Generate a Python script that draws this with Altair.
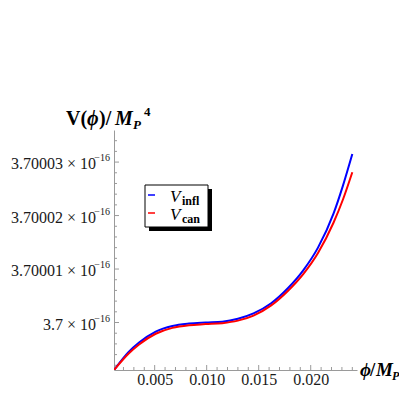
import altair as alt
import pandas as pd

# V/M_P^4 = 3.7e-16 + v * 1e-21
phi = [0.00109, 0.0025, 0.0035, 0.0051, 0.0067, 0.0083, 0.0099, 0.0115, 0.0130,
       0.0145, 0.0162, 0.0178, 0.0193, 0.0207, 0.0222, 0.0231, 0.0240]
v_infl = [-0.89, -0.55, -0.375, -0.17, -0.065, -0.02, 0.00, 0.016, 0.07,
          0.17, 0.36, 0.64, 0.98, 1.40, 2.04, 2.56, 3.15]
v_can = [-0.89, -0.58, -0.41, -0.21, -0.10, -0.05, -0.03, -0.012, 0.035,
         0.13, 0.32, 0.59, 0.91, 1.30, 1.87, 2.30, 2.81]

x_major = [0.005, 0.010, 0.015, 0.020]
x_minor = [i / 1000 for i in range(2, 25) if i % 5 != 0]
y_major = [0, 1, 2, 3]
y_mant = ["3.7 × 10", "3.70001 × 10", "3.70002 × 10", "3.70003 × 10"]
y_minor = [round(-0.8 + 0.2 * i, 1) for i in range(22) if (i + 1) % 5 != 0]

W, H = 243, 240
FONT = "Liberation Serif"
GREY = "#9a9a9a"

xs = alt.Scale(domain=[0.00109, 0.02445], nice=False, zero=False)
ys = alt.Scale(domain=[-0.888, 3.6], nice=False, zero=False)
xax = alt.Axis(values=x_major, format=".3f", ticks=False, grid=False, domainColor=GREY,
               labelFont=FONT, labelFontSize=16, labelColor="#1a1a1a", labelPadding=1,
               title="")
yax = alt.Axis(labels=False, ticks=False, grid=False, domainColor=GREY, title="")

n = len(phi)
df = pd.DataFrame({"phi": phi + phi, "v": v_infl + v_can,
                   "s": ["infl"] * n + ["can"] * n})

lines = alt.Chart(df).mark_line(strokeWidth=2, interpolate="monotone", clip=True).encode(
    x=alt.X("phi:Q", scale=xs, axis=xax),
    y=alt.Y("v:Q", scale=ys, axis=yax),
    color=alt.Color("s:N", scale=alt.Scale(domain=["infl", "can"], range=["#0000ff", "#ff0000"]),
                    legend=None),
)

def xticks(vals, length):
    d = pd.DataFrame({"t": vals})
    return alt.Chart(d).mark_rule(color=GREY, strokeWidth=1).encode(
        x=alt.X("t:Q", scale=xs, axis=xax), y=alt.value(H), y2=alt.value(H - length))

def yticks(vals, length):
    d = pd.DataFrame({"t": vals})
    return alt.Chart(d).mark_rule(color=GREY, strokeWidth=1).encode(
        y=alt.Y("t:Q", scale=ys, axis=yax), x=alt.value(0), x2=alt.value(length))

ylab_df = pd.DataFrame({"t": y_major, "m": y_mant})
ylab_main = alt.Chart(ylab_df).mark_text(align="right", baseline="alphabetic", dy=7,
                                         font=FONT, fontSize=16, color="#1a1a1a").encode(
    x=alt.value(-18), y=alt.Y("t:Q", scale=ys, axis=yax), text="m:N")
ylab_sup = alt.Chart(ylab_df).mark_text(align="right", baseline="alphabetic", dy=-1,
                                        font=FONT, fontSize=10, color="#1a1a1a").encode(
    x=alt.value(-4), y=alt.Y("t:Q", scale=ys, axis=yax), text=alt.value("−16"))

one = pd.DataFrame({"a": [0]})

def txt(s, x, y, size=20, weight="bold", style="normal", align="left", color="black"):
    return alt.Chart(one).mark_text(text=s, align=align, baseline="alphabetic", font=FONT,
                                    fontSize=size, fontWeight=weight, fontStyle=style,
                                    color=color).encode(x=alt.value(x), y=alt.value(y))

def rect(x1, x2, y1, y2, fill, stroke=None):
    kw = dict(fill=fill)
    if stroke:
        kw.update(stroke=stroke, strokeWidth=1)
    return alt.Chart(one).mark_rect(**kw).encode(
        x=alt.value(x1), x2=alt.value(x2), y=alt.value(y1), y2=alt.value(y2))

def seg(x1, x2, y, color):
    return alt.Chart(one).mark_rule(color=color, strokeWidth=1.5).encode(
        x=alt.value(x1), x2=alt.value(x2), y=alt.value(y))

# y axis title  V(ϕ)/M_P^4
ytitle = [
    txt("V(", -48, -5),
    txt("ϕ", -27, -5, style="italic"),
    txt(")/", -15, -5),
    txt("M", 1, -5, style="italic"),
    txt("P", 19, -1, size=13, style="italic"),
    txt("4", 30, -14, size=13),
]
# x axis title  ϕ/M_P
xtitle = [
    txt("ϕ", 246, 246, size=19, style="italic"),
    txt("/", 256, 246, size=19),
    txt("M", 262, 246, size=19, style="italic"),
    txt("P", 278, 250, size=12, style="italic"),
]
# legend
legend = [
    rect(35, 98, 59, 101, "black"),
    rect(31, 94, 55, 97, "white", "black"),
    seg(34, 41, 65, "#0000ff"),
    seg(34, 41, 83, "#ff0000"),
    txt("V", 56, 72, size=17, weight="normal", style="italic"),
    txt("infl", 68, 75, size=12),
    txt("V", 56, 90, size=17, weight="normal", style="italic"),
    txt("can", 68, 93, size=12),
]

chart = alt.layer(
    xticks(x_major, 5), xticks(x_minor, 3), yticks(y_major, 5), yticks(y_minor, 3),
    lines, ylab_main, ylab_sup, *ytitle, *xtitle, *legend
).properties(
    width=W, height=H,
    padding={"left": 106, "top": 122, "right": 42, "bottom": 17},
    autosize=alt.AutoSizeParams(type="none"),
).configure_view(stroke=None)

chart.save("out.html", embed_options={"renderer": "svg", "actions": False})
